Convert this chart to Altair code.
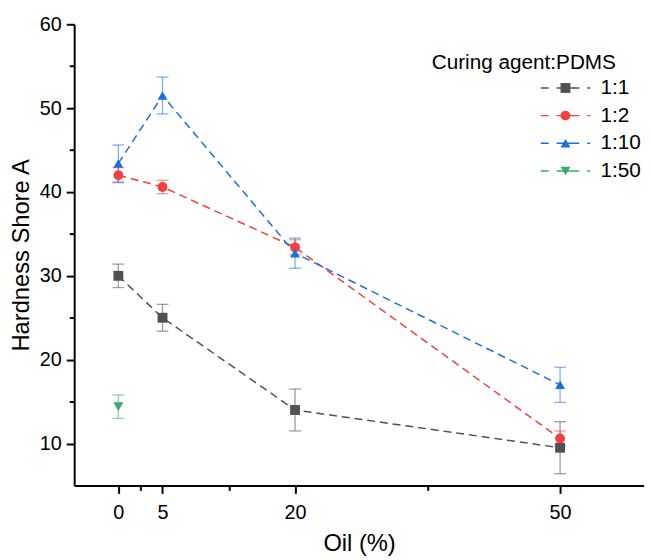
import altair as alt
import pandas as pd

oil = [0, 5, 20, 50]
ratios = ["1:1", "1:2", "1:10", "1:50"]
hard_11 = [30.0, 25.0, 14.0, 9.5]
err_11 = [1.4, 1.6, 2.5, 3.1]
hard_12 = [42.0, 40.6, 33.4, 10.6]
err_12 = [0.9, 0.8, 0.9, 0.9]
hard_110 = [43.4, 51.5, 32.7, 17.0]
err_110 = [2.2, 2.2, 1.8, 2.1]
oil_150 = [0]
hard_150 = [14.4]
err_150 = [1.4]

x_ticks = [0, 2.5, 5, 12.5, 20, 35, 50]
y_ticks = [10, 15, 20, 25, 30, 35, 40, 45, 50, 55, 60]

colors = ["#515151", "#F14040", "#1A6FDF", "#37AD6B"]
shapes = ["square", "circle", "triangle-up", "triangle-down"]

rows = []
for r, xs, ys, es in [("1:1", oil, hard_11, err_11), ("1:2", oil, hard_12, err_12),
                      ("1:10", oil, hard_110, err_110), ("1:50", oil_150, hard_150, err_150)]:
    for xv, yv, ev in zip(xs, ys, es):
        rows.append({"ratio": r, "oil": xv, "hard": yv, "lo": yv - ev, "hi": yv + ev})
df = pd.DataFrame(rows)

FONT = "Liberation Sans"

x_axis = alt.Axis(values=x_ticks, title="Oil (%)", grid=False,
                  labelExpr="indexof([0,5,20,50], datum.value) >= 0 ? datum.label : ''",
                  tickSize={"condition": {"test": "indexof([0,5,20,50], datum.value) >= 0", "value": 8}, "value": 5},
                  labelPadding=9, titlePadding=10)
y_axis = alt.Axis(values=y_ticks, title="Hardness Shore A", grid=False,
                  labelExpr="datum.value % 10 === 0 ? datum.label : ''",
                  tickSize={"condition": {"test": "datum.value % 10 === 0", "value": 8}, "value": 5},
                  labelPadding=5, titlePadding=6)
xs_ = alt.Scale(domain=[-5, 59.5], nice=False, zero=False)
ys_ = alt.Scale(domain=[5, 60], nice=False, zero=False)

cscale = alt.Scale(domain=ratios, range=colors)
sscale = alt.Scale(domain=ratios, range=shapes)

base = alt.Chart(df)

X = alt.X("oil:Q", scale=xs_, axis=x_axis)

err_rule = base.mark_rule(strokeWidth=1.3, opacity=0.55).encode(
    x=X, y=alt.Y("lo:Q", scale=ys_, axis=y_axis), y2="hi:Q",
    color=alt.Color("ratio:N", scale=cscale, legend=None))
err_lo = base.mark_tick(orient="horizontal", size=12, thickness=1.3, opacity=0.55).encode(
    x=X, y=alt.Y("lo:Q", scale=ys_, axis=y_axis),
    color=alt.Color("ratio:N", scale=cscale, legend=None))
err_hi = base.mark_tick(orient="horizontal", size=12, thickness=1.3, opacity=0.55).encode(
    x=X, y=alt.Y("hi:Q", scale=ys_, axis=y_axis),
    color=alt.Color("ratio:N", scale=cscale, legend=None))

LX, LY = 362, 28
SO, LO, RP = 125, 25, 6
dash_path = "M-5,0H-3.4M-1.8,0H2.8M4.4,0H5"

lines = base.mark_line(strokeDash=[8, 5], strokeWidth=1.5).encode(
    x=X, y=alt.Y("hard:Q", scale=ys_, axis=y_axis),
    color=alt.Color("ratio:N", scale=cscale, sort=ratios,
                    legend=alt.Legend(title="Curing agent:PDMS", orient="none", legendX=LX, legendY=LY,
                                      symbolType=dash_path, symbolSize=100, symbolStrokeWidth=1.5,
                                      symbolOffset=SO, labelOffset=LO, labelOpacity=0,
                                      rowPadding=RP, titleLimit=400)),
    order="oil:Q")

pt_legend = alt.Legend(title="Curing agent:PDMS", orient="none", legendX=LX, legendY=LY,
                       symbolSize=100, symbolOffset=SO, labelOffset=LO,
                       titleOpacity=0, rowPadding=RP, titleLimit=400)
points = base.mark_point(filled=True, size=100, opacity=1).encode(
    x=X, y=alt.Y("hard:Q", scale=ys_, axis=y_axis),
    color=alt.Color("ratio:N", scale=cscale, sort=ratios, legend=pt_legend),
    shape=alt.Shape("ratio:N", scale=sscale, sort=ratios, legend=pt_legend))

chart = alt.layer(err_rule, err_lo, err_hi, lines, points).resolve_scale(
    color="independent", shape="independent"
).properties(
    width=577, height=467,
    padding={"left": 67, "top": 13, "right": 0, "bottom": 72},
    autosize=alt.AutoSizeParams(type="none"),
).configure_view(stroke=None).configure_axis(
    domainColor="black", domainWidth=2, tickColor="black", tickWidth=2,
    labelFont=FONT, labelFontSize=20, labelColor="black",
    titleFont=FONT, titleFontSize=24, titleFontWeight="normal", titleColor="black",
).configure_legend(
    titleFont=FONT, titleFontSize=21, titleFontWeight="normal", titleColor="black",
    labelFont=FONT, labelFontSize=21, labelColor="black",
)

chart.save("out.html", embed_options={"renderer": "svg", "actions": False})
